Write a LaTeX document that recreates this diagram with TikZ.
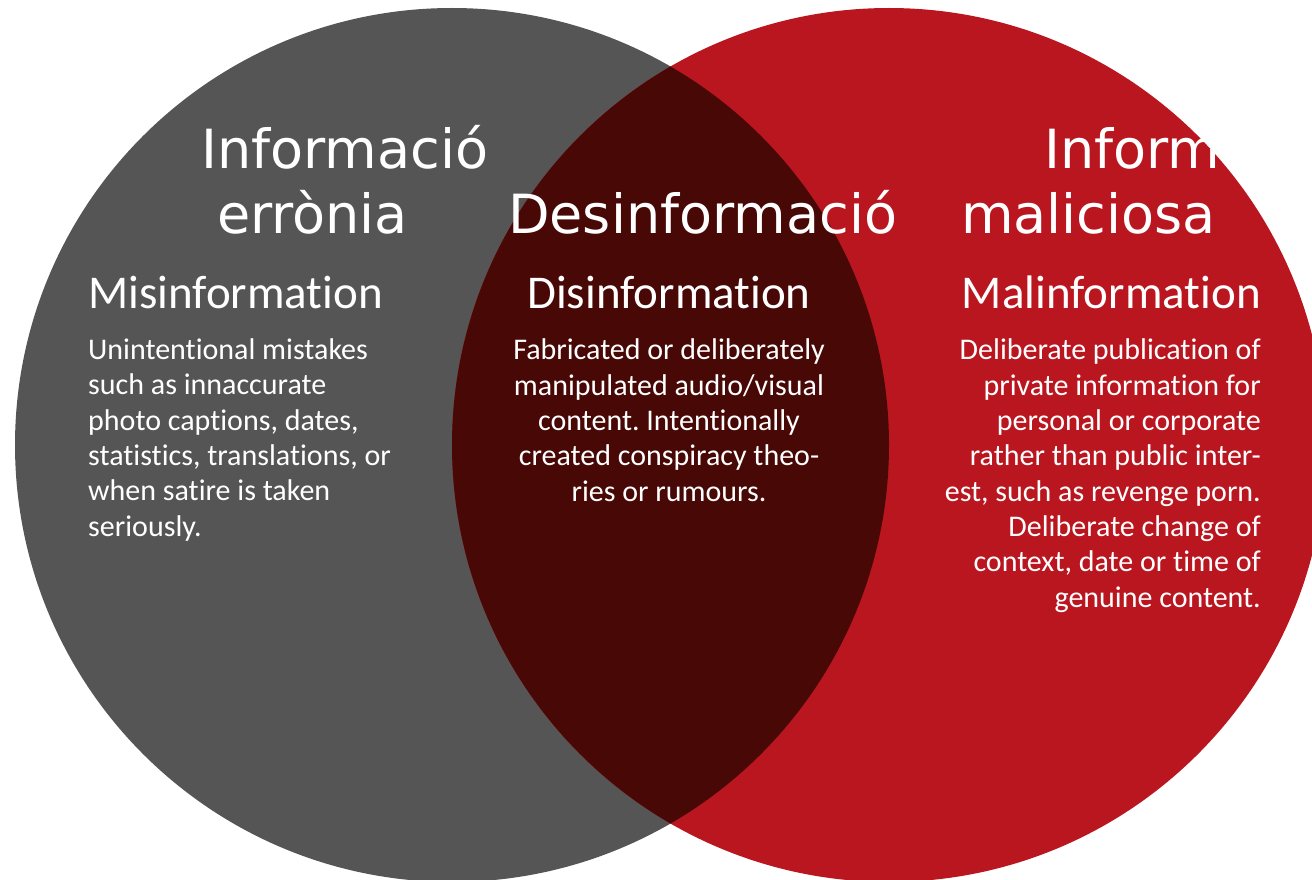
\documentclass[tikz,border=0pt]{standalone}
\usepackage{fontspec}
\newfontfamily\catfont{DejaVu Sans}
\newfontfamily\engfont[Ligatures=NoCommon]{Carlito}
\definecolor{misgrey}{HTML}{555555}
\definecolor{malred}{HTML}{BA1620}
\definecolor{disdark}{HTML}{470806}
\frenchspacing

\begin{document}
\begin{tikzpicture}[x=1pt, y=-1pt,
    cat/.style={text=white, inner sep=0pt, anchor=base west, font=\catfont\fontsize{54}{60}\selectfont},
    head/.style={text=white, inner sep=0pt, font=\engfont\fontsize{47}{52}\selectfont},
    body/.style={text=white, inner sep=0pt, font=\engfont\fontsize{30}{35.3}\selectfont}]
    \useasboundingbox (0,0) rectangle (1312,880);
    \clip (0,0) rectangle (1312,880);
    \fill[white] (0,0) rectangle (1312,880);

    % the two sets and their overlap
    \path (452,445) node [circle, fill=misgrey, minimum size=874pt, inner sep=0pt] (mis) {};
    \path (889,445) node [circle, fill=malred, minimum size=874pt, inner sep=0pt] (mal) {};
    \begin{scope}
        \clip (mis.center) circle (437pt);
        \fill[disdark] (mal.center) circle (437pt);
    \end{scope}

    % catalan titles
    \path (201,168) node [cat] (mis1) {Informació};
    \path (217,233) node [cat] (mis2) {errònia};
    \path (508,233) node [cat] (dis1) {Desinformació};
    \begin{scope}
        \clip (mal.center) circle (437pt);
        \path (1044,168) node [cat] (mal1) {Informació};
    \end{scope}
    \path (961,233) node [cat] (mal2) {maliciosa};

    % english headings
    \path (88,308) node [head, anchor=base west] (mishead) {Misinformation};
    \path (669,308) node [head, anchor=base] (dishead) {Disinformation};
    \path (1261,308) node [head, anchor=base east] (malhead) {Malinformation};

    % descriptions (base = last line)
    \path (88,536) node [body, anchor=base west, align=left] (mistext)
        {Unintentional mistakes\\such as innaccurate\\photo captions, dates,\\statistics, translations, or\\when satire is taken\\seriously.};
    \path (669,501) node [body, anchor=base, align=center] (distext)
        {Fabricated or deliberately\\manipulated audio/visual\\content. Intentionally\\created conspiracy theo-\\ries or rumours.};
    \path (1261,607) node [body, anchor=base east, align=right] (maltext)
        {Deliberate publication of\\private information for\\personal or corporate\\rather than public inter-\\est, such as revenge porn.\\Deliberate change of\\context, date or time of\\genuine content.};
\end{tikzpicture}
\end{document}
